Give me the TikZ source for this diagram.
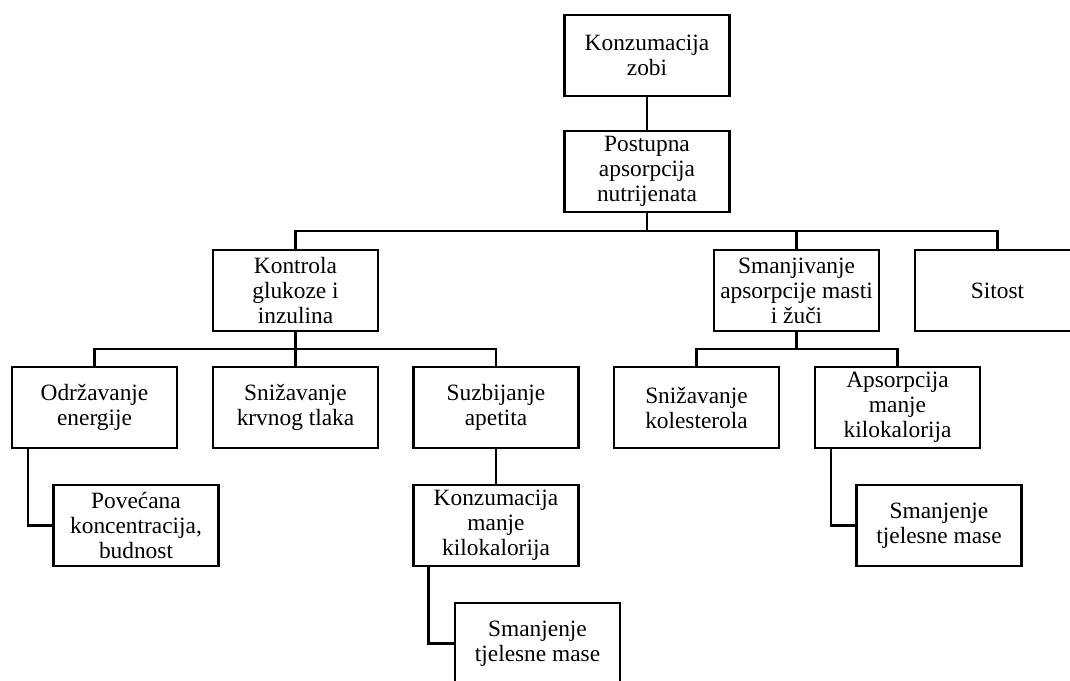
\documentclass[tikz,border=0pt]{standalone}
\usepackage{fontspec}
\setmainfont{Liberation Serif}
\usepackage{tikz}
\definecolor{boxedge}{HTML}{000000}
\definecolor{boxfill}{HTML}{FFFFFF}
\begin{document}
\begin{tikzpicture}[
  x=0.02cm, y=-0.02cm,
  box/.style={rectangle, draw=boxedge, fill=boxfill, line width=1.25pt,
              minimum width=3.3cm, minimum height=1.63cm, inner sep=1pt,
              align=center, font=\fontsize{13.3pt}{14.2pt}\selectfont},
  link/.style={draw=boxedge, line width=1.25pt},
]
\clip (0,0) rectangle (1070,680);
\fill[white] (0,0) rectangle (1070,680);
% ================= top: oats and absorption ================================
\node[box] (zobi) at (647, 55.5) {Konzumacija\\zobi};
\node[box] (postupna) at (647, 171.5) {Postupna\\apsorpcija\\nutrijenata};
% ================= second level ============================================
\node[box] (kontrola) at (295.5, 290.5) {Kontrola\\glukoze i\\inzulina};
\node[box] (smanjivanje) at (796.5, 290.5) {Smanjivanje\\apsorpcije masti\\i žuči};
\node[box] (sitost) at (997.5, 290.5) {Sitost};
% ================= third level =============================================
\node[box] (energija) at (94.5, 407.5) {Održavanje\\energije};
\node[box] (tlak) at (295.5, 407.5) {Snižavanje\\krvnog tlaka};
\node[box] (apetit) at (496, 407.5) {Suzbijanje\\apetita};
\node[box] (kolesterol) at (696.5, 407.5) {Snižavanje\\kolesterola};
\node[box] (apsorpcija) at (897.5, 407.5) {Apsorpcija\\manje\\kilokalorija};
% ================= fourth / fifth level ====================================
\node[box] (budnost) at (136, 525.5) {Povećana\\koncentracija,\\budnost};
\node[box] (kkal) at (496, 525.5) {Konzumacija\\manje\\kilokalorija};
\node[box] (masa_r) at (939, 525.5) {Smanjenje\\tjelesne mase};
\node[box] (masa_b) at (537.5, 643.5) {Smanjenje\\tjelesne mase};
% ================= connectors ==============================================
\draw[link] (zobi.south) -- (postupna.north);
\draw[link] (postupna.south) -- ++(0,18) -| (kontrola.north);
\draw[link] (postupna.south) -- ++(0,18) -| (smanjivanje.north);
\draw[link] (postupna.south) -- ++(0,18) -| (sitost.north);
\draw[link] (kontrola.south) -- ++(0,17) -| (energija.north);
\draw[link] (kontrola.south) -- (tlak.north);
\draw[link] (kontrola.south) -- ++(0,17) -| (apetit.north);
\draw[link] (smanjivanje.south) -- ++(0,17) -| (kolesterol.north);
\draw[link] (smanjivanje.south) -- ++(0,17) -| (apsorpcija.north);
\draw[link] (apetit.south) -- (kkal.north);
\draw[link] ([xshift=0.34cm]energija.south west) |- (budnost.west);    % elbow left
\draw[link] ([xshift=0.32cm]kkal.south west) |- (masa_b.west);
\draw[link] ([xshift=0.34cm]apsorpcija.south west) |- (masa_r.west);
\end{tikzpicture}
\end{document}
